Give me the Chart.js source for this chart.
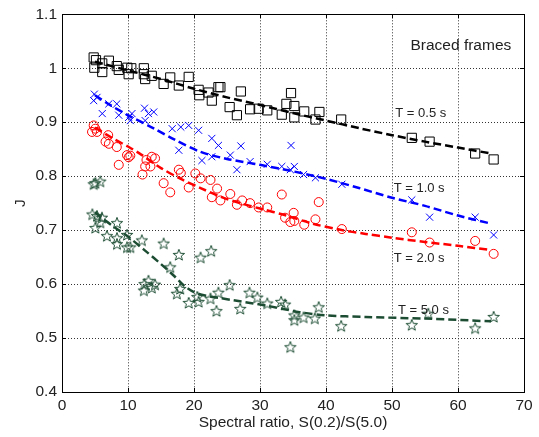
<!DOCTYPE html>
<html>
<head>
<meta charset="utf-8">
<script src="https://cdn.jsdelivr.net/npm/chart.js@4.4.1/dist/chart.umd.min.js"></script>
<style>
  html, body { margin: 0; padding: 0; background: #fff; }
  #wrap { width: 539px; height: 437px; }
</style>
</head>
<body>
<div id="wrap"><canvas id="chart"></canvas></div>
<script>
// ---------- Data ----------
const xTicks = [0, 10, 20, 30, 40, 50, 60, 70];
const xTickLabels = ["0", "10", "20", "30", "40", "50", "60", "70"];
const yTicks = [0.4, 0.5, 0.6, 0.7, 0.8, 0.9, 1.0, 1.1];
const yTickLabels = ["0.4", "0.5", "0.6", "0.7", "0.8", "0.9", "1", "1.1"];

// T = 0.5 s (squares)
const t05X = [4.8, 5.15, 4.9, 6.1, 6.1, 7.1, 8.3, 8.6, 9.9, 10.1, 10.5, 12.4, 12.4, 12.6, 13.6, 15.4, 16.4, 17.7, 19.2, 20.7, 20.8, 22.2, 22.7, 23.7, 24.0, 27.1, 25.4, 26.5, 28.5, 29.8, 31.1, 34.7, 34.0, 35.2, 33.3, 35.2, 36.7, 38.4, 39.0, 42.3, 53.0, 55.7, 62.6, 65.4];
const t05Y = [1.020, 1.015, 1.001, 1.009, 0.993, 1.014, 1.004, 0.997, 1.001, 0.989, 1.0, 1.0, 0.989, 0.980, 0.986, 0.971, 0.983, 0.968, 0.984, 0.960, 0.950, 0.955, 0.940, 0.965, 0.965, 0.957, 0.928, 0.913, 0.924, 0.925, 0.922, 0.954, 0.934, 0.930, 0.914, 0.909, 0.920, 0.905, 0.919, 0.905, 0.871, 0.864, 0.842, 0.831];
const t05FitX = [5, 10, 15, 20, 25, 30, 35, 40, 45, 50, 55, 60, 65];
const t05FitY = [1.012, 0.996, 0.980, 0.962, 0.946, 0.932, 0.917, 0.903, 0.889, 0.876, 0.864, 0.853, 0.842];

// T = 1.0 s (crosses)
const t10X = [4.9, 4.8, 5.3, 6.1, 7.1, 8.3, 8.6, 10.1, 10.35, 10.6, 12.5, 12.6, 13.1, 13.9, 16.7, 18.0, 19.2, 20.7, 22.7, 23.7, 17.7, 21.2, 27.1, 34.7, 22.7, 25.5, 26.5, 28.5, 31.1, 33.3, 34.6, 35.2, 36.6, 38.4, 42.4, 53.0, 55.7, 62.6, 65.4];
const t10Y = [0.952, 0.940, 0.946, 0.916, 0.934, 0.934, 0.913, 0.909, 0.903, 0.916, 0.926, 0.903, 0.916, 0.919, 0.888, 0.891, 0.894, 0.885, 0.870, 0.857, 0.848, 0.829, 0.856, 0.857, 0.836, 0.839, 0.812, 0.827, 0.822, 0.818, 0.812, 0.818, 0.803, 0.797, 0.785, 0.756, 0.724, 0.724, 0.691];
const t10FitX = [5, 7, 10, 14, 17, 21, 25, 30, 35, 40, 45, 50, 55, 60, 65];
const t10FitY = [0.950, 0.934, 0.913, 0.888, 0.868, 0.845, 0.832, 0.821, 0.809, 0.795, 0.778, 0.760, 0.745, 0.727, 0.712];

// T = 2.0 s (circles)
const t20X = [4.8, 5.05, 4.55, 5.3, 6.6, 7.1, 7.0, 8.3, 8.6, 9.85, 10.35, 10.1, 12.2, 12.6, 12.8, 13.6, 13.4, 14.1, 15.4, 16.4, 17.7, 18.0, 19.2, 20.2, 21.0, 22.5, 23.5, 22.7, 24.0, 25.5, 26.5, 27.3, 28.5, 29.8, 31.1, 33.3, 33.8, 34.6, 35.1, 35.2, 36.7, 38.4, 38.9, 42.4, 53.0, 55.7, 62.6, 65.4];
const t20Y = [0.894, 0.888, 0.882, 0.882, 0.864, 0.860, 0.876, 0.854, 0.821, 0.839, 0.838, 0.835, 0.803, 0.818, 0.830, 0.836, 0.818, 0.833, 0.787, 0.770, 0.812, 0.806, 0.779, 0.805, 0.796, 0.793, 0.777, 0.761, 0.755, 0.767, 0.747, 0.755, 0.750, 0.742, 0.742, 0.766, 0.723, 0.715, 0.732, 0.717, 0.710, 0.720, 0.752, 0.702, 0.696, 0.677, 0.680, 0.656];
const t20FitX = [5, 8, 10, 12, 15, 18, 21, 24, 27, 30, 34, 38, 42, 46, 50, 55, 60, 65];
const t20FitY = [0.890, 0.868, 0.855, 0.840, 0.815, 0.795, 0.778, 0.762, 0.750, 0.740, 0.727, 0.712, 0.701, 0.693, 0.686, 0.678, 0.671, 0.663];

// T = 5.0 s (stars)
const t50X = [5.05, 5.8, 4.8, 4.6, 5.3, 5.05, 6.06, 5.8, 8.33, 6.8, 8.33, 8.33, 9.85, 9.85, 10.35, 12.1, 15.4, 17.7, 21.0, 22.6, 16.4, 12.5, 13.1, 14.1, 12.4, 13.6, 17.9, 17.4, 19.2, 20.5, 20.7, 22.5, 23.7, 23.4, 25.4, 27.0, 28.4, 29.6, 31.1, 33.2, 33.8, 35.2, 35.2, 36.6, 38.3, 38.9, 34.6, 42.3, 53.0, 55.5, 62.6, 65.4];
const t50Y = [0.787, 0.790, 0.785, 0.729, 0.726, 0.704, 0.723, 0.714, 0.713, 0.689, 0.685, 0.674, 0.691, 0.668, 0.668, 0.681, 0.675, 0.654, 0.649, 0.661, 0.631, 0.600, 0.606, 0.599, 0.588, 0.593, 0.591, 0.582, 0.565, 0.576, 0.567, 0.573, 0.584, 0.550, 0.598, 0.554, 0.584, 0.575, 0.564, 0.567, 0.562, 0.542, 0.533, 0.538, 0.536, 0.557, 0.483, 0.522, 0.524, 0.545, 0.518, 0.539];
const t50FitX = [5, 6, 8, 10, 12.5, 15, 17, 18.5, 20, 22, 24, 26, 31, 36, 40, 46, 55, 65];
const t50FitY = [0.733, 0.723, 0.705, 0.688, 0.663, 0.637, 0.615, 0.597, 0.585, 0.578, 0.574, 0.570, 0.560, 0.548, 0.542, 0.539, 0.536, 0.531];

// text annotations: [text, x, y (baseline), font size]
const notes = [
  ["Braced frames", 52.8, 1.034, 15.5],
  ["T = 0.5 s", 50.5, 0.9095, 13],
  ["T = 1.0 s", 50.25, 0.770, 13],
  ["T = 2.0 s", 50.25, 0.641, 13],
  ["T = 5.0 s", 50.9, 0.545, 13],
];

// ---------- Style ----------
const color = {
  black: "#000000",
  blue: "#0000ff",
  red: "#ff0000",
  green: "#1c4d33",
  text: "#222222",
  grid: "#333333",
};
const FONT = '"Liberation Sans", Arial, sans-serif';

const pts = (xs, ys) => xs.map((x, i) => ({ x, y: ys[i] }));

// pentagram marker
function makeStar(stroke) {
  const c = document.createElement("canvas");
  c.width = 14;
  c.height = 14;
  const g = c.getContext("2d");
  g.strokeStyle = stroke;
  g.lineWidth = 1;
  g.beginPath();
  for (let i = 0; i < 10; i++) {
    const r = i % 2 === 0 ? 6 : 2.5;
    const a = -Math.PI / 2 + (i * Math.PI) / 5;
    const px = 7 + r * Math.cos(a);
    const py = 7.3 + r * Math.sin(a);
    if (i === 0) g.moveTo(px, py);
    else g.lineTo(px, py);
  }
  g.closePath();
  g.stroke();
  return c;
}
const starImg = makeStar(color.green);

const fitLine = (data, stroke) => ({
  type: "line",
  data,
  borderColor: stroke,
  borderWidth: 2.5,
  borderDash: [8, 4],
  pointRadius: 0,
  fill: false,
  tension: 0.3,
  order: 0,
});
const marks = (data, stroke, style, radius) => ({
  type: "scatter",
  data,
  pointStyle: style,
  pointRadius: radius,
  pointBorderColor: stroke,
  pointBackgroundColor: "transparent",
  pointBorderWidth: 1,
  order: 1,
});

// ---------- Plugins ----------
const framePlugin = {
  id: "frame",
  afterDatasetsDraw(chart) {
    const { ctx, chartArea: a, scales } = chart;
    ctx.save();
    ctx.fillStyle = color.text;
    ctx.textBaseline = "alphabetic";
    ctx.textAlign = "left";
    notes.forEach(([t, x, y, size]) => {
      ctx.font = `${size}px ${FONT}`;
      ctx.fillText(t, scales.x.getPixelForValue(x), scales.y.getPixelForValue(y));
    });
    ctx.restore();
  },
  afterDraw(chart) {
    const { ctx, chartArea: a, scales } = chart;
    ctx.save();
    ctx.strokeStyle = color.black;
    ctx.lineWidth = 1;
    ctx.strokeRect(Math.round(a.left) + 0.5, Math.round(a.top) + 0.5,
      Math.round(a.right - a.left), Math.round(a.bottom - a.top));
    ctx.beginPath();
    xTicks.forEach((v) => {
      const px = Math.round(scales.x.getPixelForValue(v)) + 0.5;
      ctx.moveTo(px, a.bottom); ctx.lineTo(px, a.bottom - 4);
      ctx.moveTo(px, a.top); ctx.lineTo(px, a.top + 4);
    });
    yTicks.forEach((v) => {
      const py = Math.round(scales.y.getPixelForValue(v)) + 0.5;
      ctx.moveTo(a.left, py); ctx.lineTo(a.left + 4, py);
      ctx.moveTo(a.right, py); ctx.lineTo(a.right - 4, py);
    });
    ctx.stroke();
    ctx.restore();
  },
};

// ---------- Chart ----------
new Chart(document.getElementById("chart"), {
  data: {
    datasets: [
      fitLine(pts(t05FitX, t05FitY), color.black),
      fitLine(pts(t10FitX, t10FitY), color.blue),
      fitLine(pts(t20FitX, t20FitY), color.red),
      fitLine(pts(t50FitX, t50FitY), color.green),
      marks(pts(t05X, t05Y), color.black, "rect", 6.5),
      marks(pts(t10X, t10Y), color.blue, "crossRot", 5),
      marks(pts(t20X, t20Y), color.red, "circle", 4.5),
      marks(pts(t50X, t50Y), color.green, starImg, 6),
    ],
  },
  options: {
    responsive: true,
    maintainAspectRatio: false,
    animation: false,
    layout: { padding: { top: 11, right: 15, left: 0, bottom: 0 } },
    plugins: { legend: { display: false }, tooltip: { enabled: false } },
    scales: {
      x: {
        type: "linear",
        min: 0,
        max: 70,
        afterBuildTicks: (s) => { s.ticks = xTicks.map((v) => ({ value: v })); },
        afterFit: (s) => { s.height = 45; },
        grid: { color: color.grid, drawTicks: false, lineWidth: 1 },
        border: { display: false, dash: [1, 2] },
        ticks: {
          color: color.text,
          padding: 4,
          maxRotation: 0,
          font: { family: FONT, size: 15.5 },
          callback: (v) => xTickLabels[xTicks.indexOf(v)],
        },
        title: {
          display: true,
          text: "Spectral ratio, S(0.2)/S(5.0)",
          color: color.text,
          font: { family: FONT, size: 15.5 },
          padding: { top: 0, bottom: 5 },
        },
      },
      y: {
        type: "linear",
        min: 0.4,
        max: 1.1,
        afterBuildTicks: (s) => { s.ticks = yTicks.map((v) => ({ value: v })); },
        afterFit: (s) => { s.width = 62; },
        grid: { color: color.grid, drawTicks: false, lineWidth: 1 },
        border: { display: false, dash: [1, 2] },
        ticks: {
          color: color.text,
          padding: 5,
          font: { family: FONT, size: 15.5 },
          callback: (v) => yTickLabels[yTicks.findIndex((t) => Math.abs(t - v) < 1e-6)],
        },
        title: {
          display: true,
          text: "J",
          color: color.text,
          font: { family: FONT, size: 15.5 },
          padding: { top: 11, bottom: 0 },
        },
      },
    },
  },
  plugins: [framePlugin],
});
</script>
</body>
</html>
